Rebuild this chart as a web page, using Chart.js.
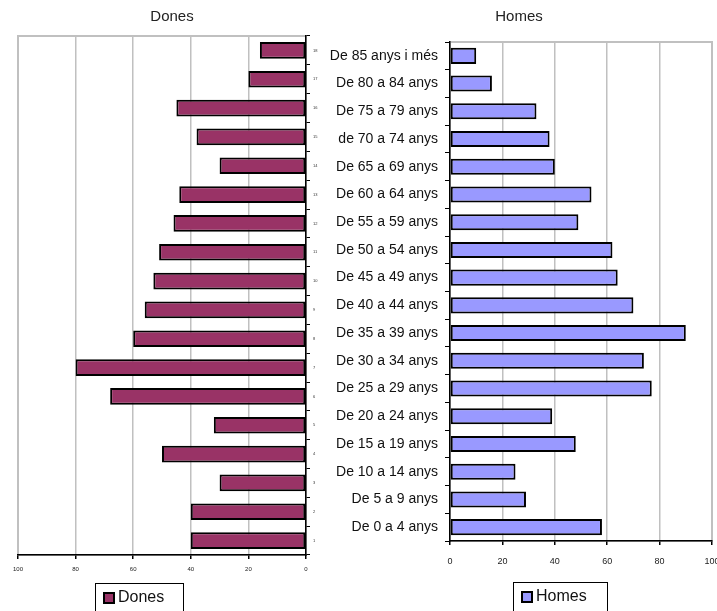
<!DOCTYPE html>
<html>
<head>
<meta charset="utf-8">
<script src="https://cdn.jsdelivr.net/npm/chart.js@4"></script>
<style>
  body { margin: 0; background: #fff; }
  #wrap { position: relative; width: 717px; height: 611px; overflow: hidden; }
  canvas { position: absolute; top: 0; }
  #donesChart { left: 0; }
  #homesChart { left: 326px; }
</style>
</head>
<body>
<div id="wrap">
  <canvas id="donesChart" width="326" height="611"></canvas>
  <canvas id="homesChart" width="391" height="611"></canvas>
</div>
<script>
// age groups, youngest first (drawn bottom to top)
const ageGroups = ["De 0 a 4 anys", "De 5 a 9 anys", "De 10 a 14 anys", "De 15 a 19 anys",
  "De 20 a 24 anys", "De 25 a 29 anys", "De 30 a 34 anys", "De 35 a 39 anys",
  "De 40 a 44 anys", "De 45 a 49 anys", "De 50 a 54 anys", "De 55 a 59 anys",
  "De 60 a 64 anys", "De 65 a 69 anys", "de 70 a 74 anys", "De 75 a 79 anys",
  "De 80 a 84 anys", "De 85 anys i més"];
const rowNumbers = ["1", "2", "3", "4", "5", "6", "7", "8", "9", "10", "11", "12", "13", "14", "15", "16", "17", "18"];
const dones = [40, 40, 30, 50, 32, 68, 80, 60, 56, 53, 51, 46, 44, 30, 38, 45, 20, 16];
const homes = [58, 29, 25, 48, 39, 77, 74, 90, 70, 64, 62, 49, 54, 40, 38, 33, 16, 10];
const xTicks = [0, 20, 40, 60, 80, 100];

const FONT = "'Liberation Sans', Arial, sans-serif";

// gray frame behind the plot + boxed legend (Excel look)
const excelBits = {
  id: "excelBits",
  beforeDraw(chart, args, opts) {
    const { ctx, chartArea: a } = chart;
    ctx.save();
    ctx.strokeStyle = "#c0c0c0";
    ctx.lineWidth = 2;
    ctx.strokeRect(a.left, a.top, a.right - a.left, a.bottom - a.top);
    ctx.restore();
  },
  afterDraw(chart, args, opts) {
    const { ctx } = chart;
    const ds = chart.data.datasets[0];
    ctx.save();
    ctx.strokeStyle = "#000";
    ctx.lineWidth = 1;
    ctx.strokeRect(opts.x + 0.5, opts.y + 0.5, opts.w, 40);
    ctx.fillStyle = ds.backgroundColor;
    ctx.fillRect(opts.x + 9, opts.y + 10, 10, 10);
    ctx.lineWidth = 2;
    ctx.strokeRect(opts.x + 9, opts.y + 10, 10, 10);
    ctx.fillStyle = "#111";
    ctx.font = "16px " + FONT;
    ctx.textBaseline = "middle";
    ctx.fillText(ds.label, opts.x + 23, opts.y + 15);
    ctx.restore();
  }
};

function xScale(reverse, fontSize, pad, height) {
  return {
    min: 0, max: 100, reverse: reverse,
    afterBuildTicks: s => { s.ticks = xTicks.map(v => ({ value: v })); },
    afterFit: s => { s.height = height; s.paddingLeft = 0; s.paddingRight = 0; },
    grid: { color: "#c0c0c0", lineWidth: 1.5, tickColor: "#000", tickLength: 4 },
    border: { color: "#000", width: 1.5 },
    ticks: { font: { family: FONT, size: fontSize }, color: "#222", padding: pad, maxRotation: 0 }
  };
}

// Dones (left, bars grow to the left)
new Chart(document.getElementById("donesChart"), {
  type: "bar",
  data: {
    labels: rowNumbers,
    datasets: [{
      label: "Dones",
      data: dones,
      backgroundColor: "#993366",
      borderColor: "#000",
      borderWidth: 2,
      borderSkipped: false,
      barPercentage: 0.58,
      categoryPercentage: 1
    }]
  },
  options: {
    indexAxis: "y",
    responsive: false,
    animation: false,
    layout: { padding: { left: 18, right: 0, top: 0, bottom: 36 } },
    scales: {
      x: xScale(true, 6, 7, 20),
      y: {
        position: "right",
        reverse: true,
        afterFit: s => { s.width = 20; },
        grid: { drawOnChartArea: false, tickColor: "#000", tickLength: 4, offset: true },
        border: { color: "#000", width: 1.5 },
        ticks: { font: { family: FONT, size: 4 }, color: "#333", padding: 3 }
      }
    },
    plugins: {
      legend: { display: false },
      tooltip: { enabled: false },
      title: {
        display: true, text: "Dones", color: "#222",
        font: { family: FONT, size: 15, weight: "normal" },
        padding: { top: 8, bottom: 10 }
      },
      excelBits: { x: 95, y: 583, w: 88 }
    }
  },
  plugins: [excelBits]
});

// Homes (right)
new Chart(document.getElementById("homesChart"), {
  type: "bar",
  data: {
    labels: ageGroups,
    datasets: [{
      label: "Homes",
      data: homes,
      backgroundColor: "#9999FF",
      borderColor: "#000",
      borderWidth: 2,
      borderSkipped: false,
      barPercentage: 0.58,
      categoryPercentage: 1
    }]
  },
  options: {
    indexAxis: "y",
    responsive: false,
    animation: false,
    layout: { padding: { left: 0, right: 5, top: 0, bottom: 44 } },
    scales: {
      x: xScale(false, 9, 11, 26),
      y: {
        position: "left",
        reverse: true,
        afterFit: s => { s.width = 124; },
        grid: { drawOnChartArea: false, tickColor: "#000", tickLength: 5, offset: true },
        border: { color: "#000", width: 1.5 },
        ticks: { font: { family: FONT, size: 14 }, color: "#111", padding: 7 }
      }
    },
    plugins: {
      legend: { display: false },
      tooltip: { enabled: false },
      title: {
        display: true, text: "Homes", color: "#222",
        font: { family: FONT, size: 15, weight: "normal" },
        padding: { top: 8, bottom: 16 }
      },
      excelBits: { x: 187, y: 582, w: 94 }
    }
  },
  plugins: [excelBits]
});
</script>
</body>
</html>
